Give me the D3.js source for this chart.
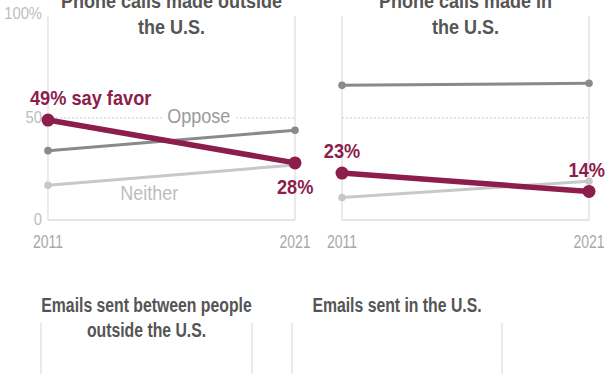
<!DOCTYPE html>
<html>
<head>
<meta charset="utf-8">
<script src="https://cdn.jsdelivr.net/npm/d3@7"></script>
<style>
  body { margin: 0; background: #fff; }
  svg { display: block; }
</style>
</head>
<body>
<div id="chart"></div>
<script>
// data
var years = [2011, 2021];
var yTicks = [0, 50, 100];
var yTickLabels = ["0", "50", "100%"];

var titles = [
  ["Phone calls made outside", "the U.S."],
  ["Phone calls made in", "the U.S."],
  ["Emails sent between people", "outside the U.S."],
  ["Emails sent in the U.S."]
];

var favorOutside = [49, 28];
var opposeOutside = [34, 44];
var neitherOutside = [17, 27];

var favorIn = [23, 14];
var opposeIn = [66, 67];
var neitherIn = [11, 19];

var svg = d3.select("#chart").append("svg")
  .attr("width", 612)
  .attr("height", 374);

var font = "'Liberation Sans', Arial, sans-serif";
var maroon = "#8c1d4c";

// narrow text: squeeze horizontally like a condensed face
function addText(parent, x, y, txt, opt) {
  var g = parent.append("g")
    .attr("transform", "translate(" + x + "," + y + ") scale(" + (opt.sx || 0.86) + ",1)");
  return g.append("text")
    .attr("x", 0).attr("y", 0)
    .attr("text-anchor", opt.anchor || "middle")
    .style("font-family", font)
    .style("font-weight", opt.weight || "normal")
    .style("font-size", (opt.size || 16) + "px")
    .attr("fill", opt.color || "#555")
    .text(txt);
}

var y = d3.scaleLinear().domain([0, 100]).range([220, 16]);

var topPanels = [
  { x0: 48, x1: 295, title: titles[0], favor: favorOutside, oppose: opposeOutside, neither: neitherOutside, showY: true },
  { x0: 342, x1: 589, title: titles[1], favor: favorIn, oppose: opposeIn, neither: neitherIn, showY: false }
];

topPanels.forEach(function (p, i) {
  var x = d3.scaleLinear().domain([2011, 2021]).range([p.x0, p.x1]);
  var g = svg.append("g");

  // vertical grid lines at each year
  g.selectAll(".vgrid")
    .data(years)
    .enter()
    .append("line")
    .attr("x1", function (d) { return x(d); })
    .attr("x2", function (d) { return x(d); })
    .attr("y1", y(100))
    .attr("y2", y(0))
    .attr("stroke", "#dddddd")
    .attr("stroke-width", 1.2);

  // baseline
  g.append("line")
    .attr("x1", x(2011)).attr("x2", x(2021))
    .attr("y1", y(0)).attr("y2", y(0))
    .attr("stroke", "#dddddd")
    .attr("stroke-width", 1.5);

  // dotted 50 line
  g.append("line")
    .attr("x1", x(2011)).attr("x2", x(2021))
    .attr("y1", y(50)).attr("y2", y(50))
    .attr("stroke", "#cccccc")
    .attr("stroke-width", 1)
    .attr("stroke-dasharray", "2,2");

  // year labels
  years.forEach(function (d) {
    addText(g, x(d), 248, d, { size: 18, color: "#a8a8a8", sx: 0.78 });
  });

  if (p.showY) {
    yTicks.forEach(function (d, j) {
      addText(g, 42, y(d) + (d === 100 ? 3 : 5), yTickLabels[j], { size: 17, color: "#bdbdbd", anchor: "end", sx: 0.87 });
    });
  }

  var line = d3.line()
    .x(function (d, j) { return x(years[j]); })
    .y(function (d) { return y(d); });

  if (i === 0) {
    // oppose label with white backing over the dotted line
    var ox = x(2017.1);
    g.append("rect")
      .attr("x", ox - 36).attr("y", y(50) - 10)
      .attr("width", 72).attr("height", 20)
      .attr("fill", "#fff");
    addText(g, ox, y(50) + 5, "Oppose", { size: 20, color: "#9a9a9a", sx: 0.9 });
    addText(g, x(2015.1), y(p.neither[0]) + 15, "Neither", { size: 20, color: "#bdbdbd", sx: 0.9 });
  }

  var series = [
    { v: p.neither, color: "#c8c8c8", w: 3, r: 3.8 },
    { v: p.oppose, color: "#8a8a8a", w: 3, r: 3.8 },
    { v: p.favor, color: maroon, w: 5.5, r: 6.5 }
  ];

  series.forEach(function (s, k) {
    g.append("path")
      .datum(s.v)
      .attr("d", line)
      .attr("fill", "none")
      .attr("stroke", s.color)
      .attr("stroke-width", s.w);
    g.selectAll(".dot" + k)
      .data(s.v)
      .enter()
      .append("circle")
      .attr("cx", function (d, j) { return x(years[j]); })
      .attr("cy", function (d) { return y(d); })
      .attr("r", s.r)
      .attr("fill", s.color);
  });

  // titles
  p.title.forEach(function (t, j) {
    addText(g, (p.x0 + p.x1) / 2, 8 + j * 26, t, { size: 20, weight: "bold", color: "#555555", sx: 0.9 });
  });

  var big = { size: 20, weight: "bold", color: maroon, sx: 0.91 };
  if (i === 0) {
    addText(g, x(2011) - 18, y(p.favor[0]) - 15, p.favor[0] + "% say favor", Object.assign({ anchor: "start" }, big));
    addText(g, x(2021) - 18, y(p.favor[1]) + 31, p.favor[1] + "%", Object.assign({ anchor: "start" }, big));
  } else {
    addText(g, x(2011), y(p.favor[0]) - 15, p.favor[0] + "%", big);
    addText(g, x(2021) + 16, y(p.favor[1]) - 14, p.favor[1] + "%", Object.assign({}, big, { anchor: "end" }));
  }
});

// bottom row, only titles and grid lines visible
var bottomPanels = [
  { x0: 41, x1: 252, title: titles[2] },
  { x0: 292, x1: 502, title: titles[3] }
];

bottomPanels.forEach(function (p) {
  var g = svg.append("g");
  g.selectAll(".vgrid")
    .data([p.x0, p.x1])
    .enter()
    .append("line")
    .attr("x1", function (d) { return d; })
    .attr("x2", function (d) { return d; })
    .attr("y1", 323)
    .attr("y2", 374)
    .attr("stroke", "#dddddd")
    .attr("stroke-width", 1.2);
  p.title.forEach(function (t, j) {
    addText(g, (p.x0 + p.x1) / 2, 312 + j * 25, t, { size: 20.5, weight: "bold", color: "#555555", sx: 0.77 });
  });
});
</script>
</body>
</html>
